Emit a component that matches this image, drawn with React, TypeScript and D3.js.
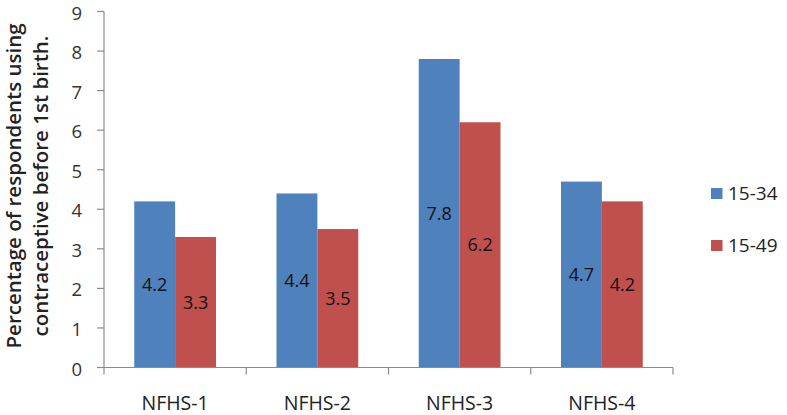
import React from "react";
import * as d3 from "d3";

const categories = ["NFHS-1", "NFHS-2", "NFHS-3", "NFHS-4"];
const seriesNames = ["15-34", "15-49"];
const values1534 = [4.2, 4.4, 7.8, 4.7];
const values1549 = [3.3, 3.5, 6.2, 4.2];
const yTicks = [0, 1, 2, 3, 4, 5, 6, 7, 8, 9];
const colors = ["#4F81BD", "#C0504D"];
const yTitle = ["Percentage of respondents using", "contraceptive before 1st birth."];

const W = 787, H = 415;
const left = 104, right = 673, top = 11.5, bottom = 367.5;
const font = "'Open Sans', 'Liberation Sans', sans-serif";

export default function App() {
  const x0 = d3.scaleBand<string>().domain(categories).range([left, right]).paddingInner(0).paddingOuter(0);
  const x1 = d3.scaleBand<string>().domain(seriesNames).range([0, x0.bandwidth()]).paddingOuter(0.74).paddingInner(0);
  const y = d3.scaleLinear().domain([0, 9]).range([bottom, top]);
  const series = [values1534, values1549];
  const axisColor = "#8c8c8c";
  return (
    <svg width={W} height={H} style={{ position: "absolute", left: 0, top: 0, background: "#fff" }}>
      {categories.map((c, i) =>
        seriesNames.map((s, j) => {
          const v = series[j][i];
          const bx = (x0(c) as number) + (x1(s) as number);
          return (
            <g key={c + s}>
              <rect x={bx} y={y(v)} width={x1.bandwidth()} height={y(0) - y(v)} fill={colors[j]} />
              <text x={bx + x1.bandwidth() / 2} y={y(v / 2) + 6.5} textAnchor="middle" fontFamily={font} fontSize={18} fill="#111">{v.toFixed(1)}</text>
            </g>
          );
        })
      )}
      <line x1={left} x2={left} y1={top} y2={bottom} stroke={axisColor} strokeWidth={1.2} />
      {yTicks.map((t) => (
        <g key={t}>
          <line x1={left - 7} x2={left} y1={y(t)} y2={y(t)} stroke={axisColor} strokeWidth={1.2} />
          <text x={82} y={y(t) + 8} textAnchor="end" fontFamily={font} fontSize={18.5} fill="#333">{t}</text>
        </g>
      ))}
      <line x1={left} x2={right} y1={bottom} y2={bottom} stroke={axisColor} strokeWidth={1.2} />
      {[...categories.map((c) => x0(c) as number), right].map((tx, i) => (
        <line key={i} x1={tx} x2={tx} y1={bottom} y2={bottom + 7} stroke={axisColor} strokeWidth={1.2} />
      ))}
      {categories.map((c) => (
        <text key={c} x={(x0(c) as number) + x0.bandwidth() / 2} y={410} textAnchor="middle" fontFamily={font} fontSize={19.5} fill="#222">{c}</text>
      ))}
      {yTitle.map((t, i) => (
        <text key={i} transform={`translate(${21 + i * 27},186) rotate(-90)`} textAnchor="middle" fontFamily={font} fontSize={20.5} fontWeight={600} fill="#222">{t}</text>
      ))}
      {seriesNames.map((s, j) => (
        <g key={s}>
          <rect x={711} y={188 + j * 52} width={11.5} height={11} fill={colors[j]} />
          <text x={728} y={200 + j * 52} fontFamily={font} fontSize={19} fill="#222">{s}</text>
        </g>
      ))}
    </svg>
  );
}
